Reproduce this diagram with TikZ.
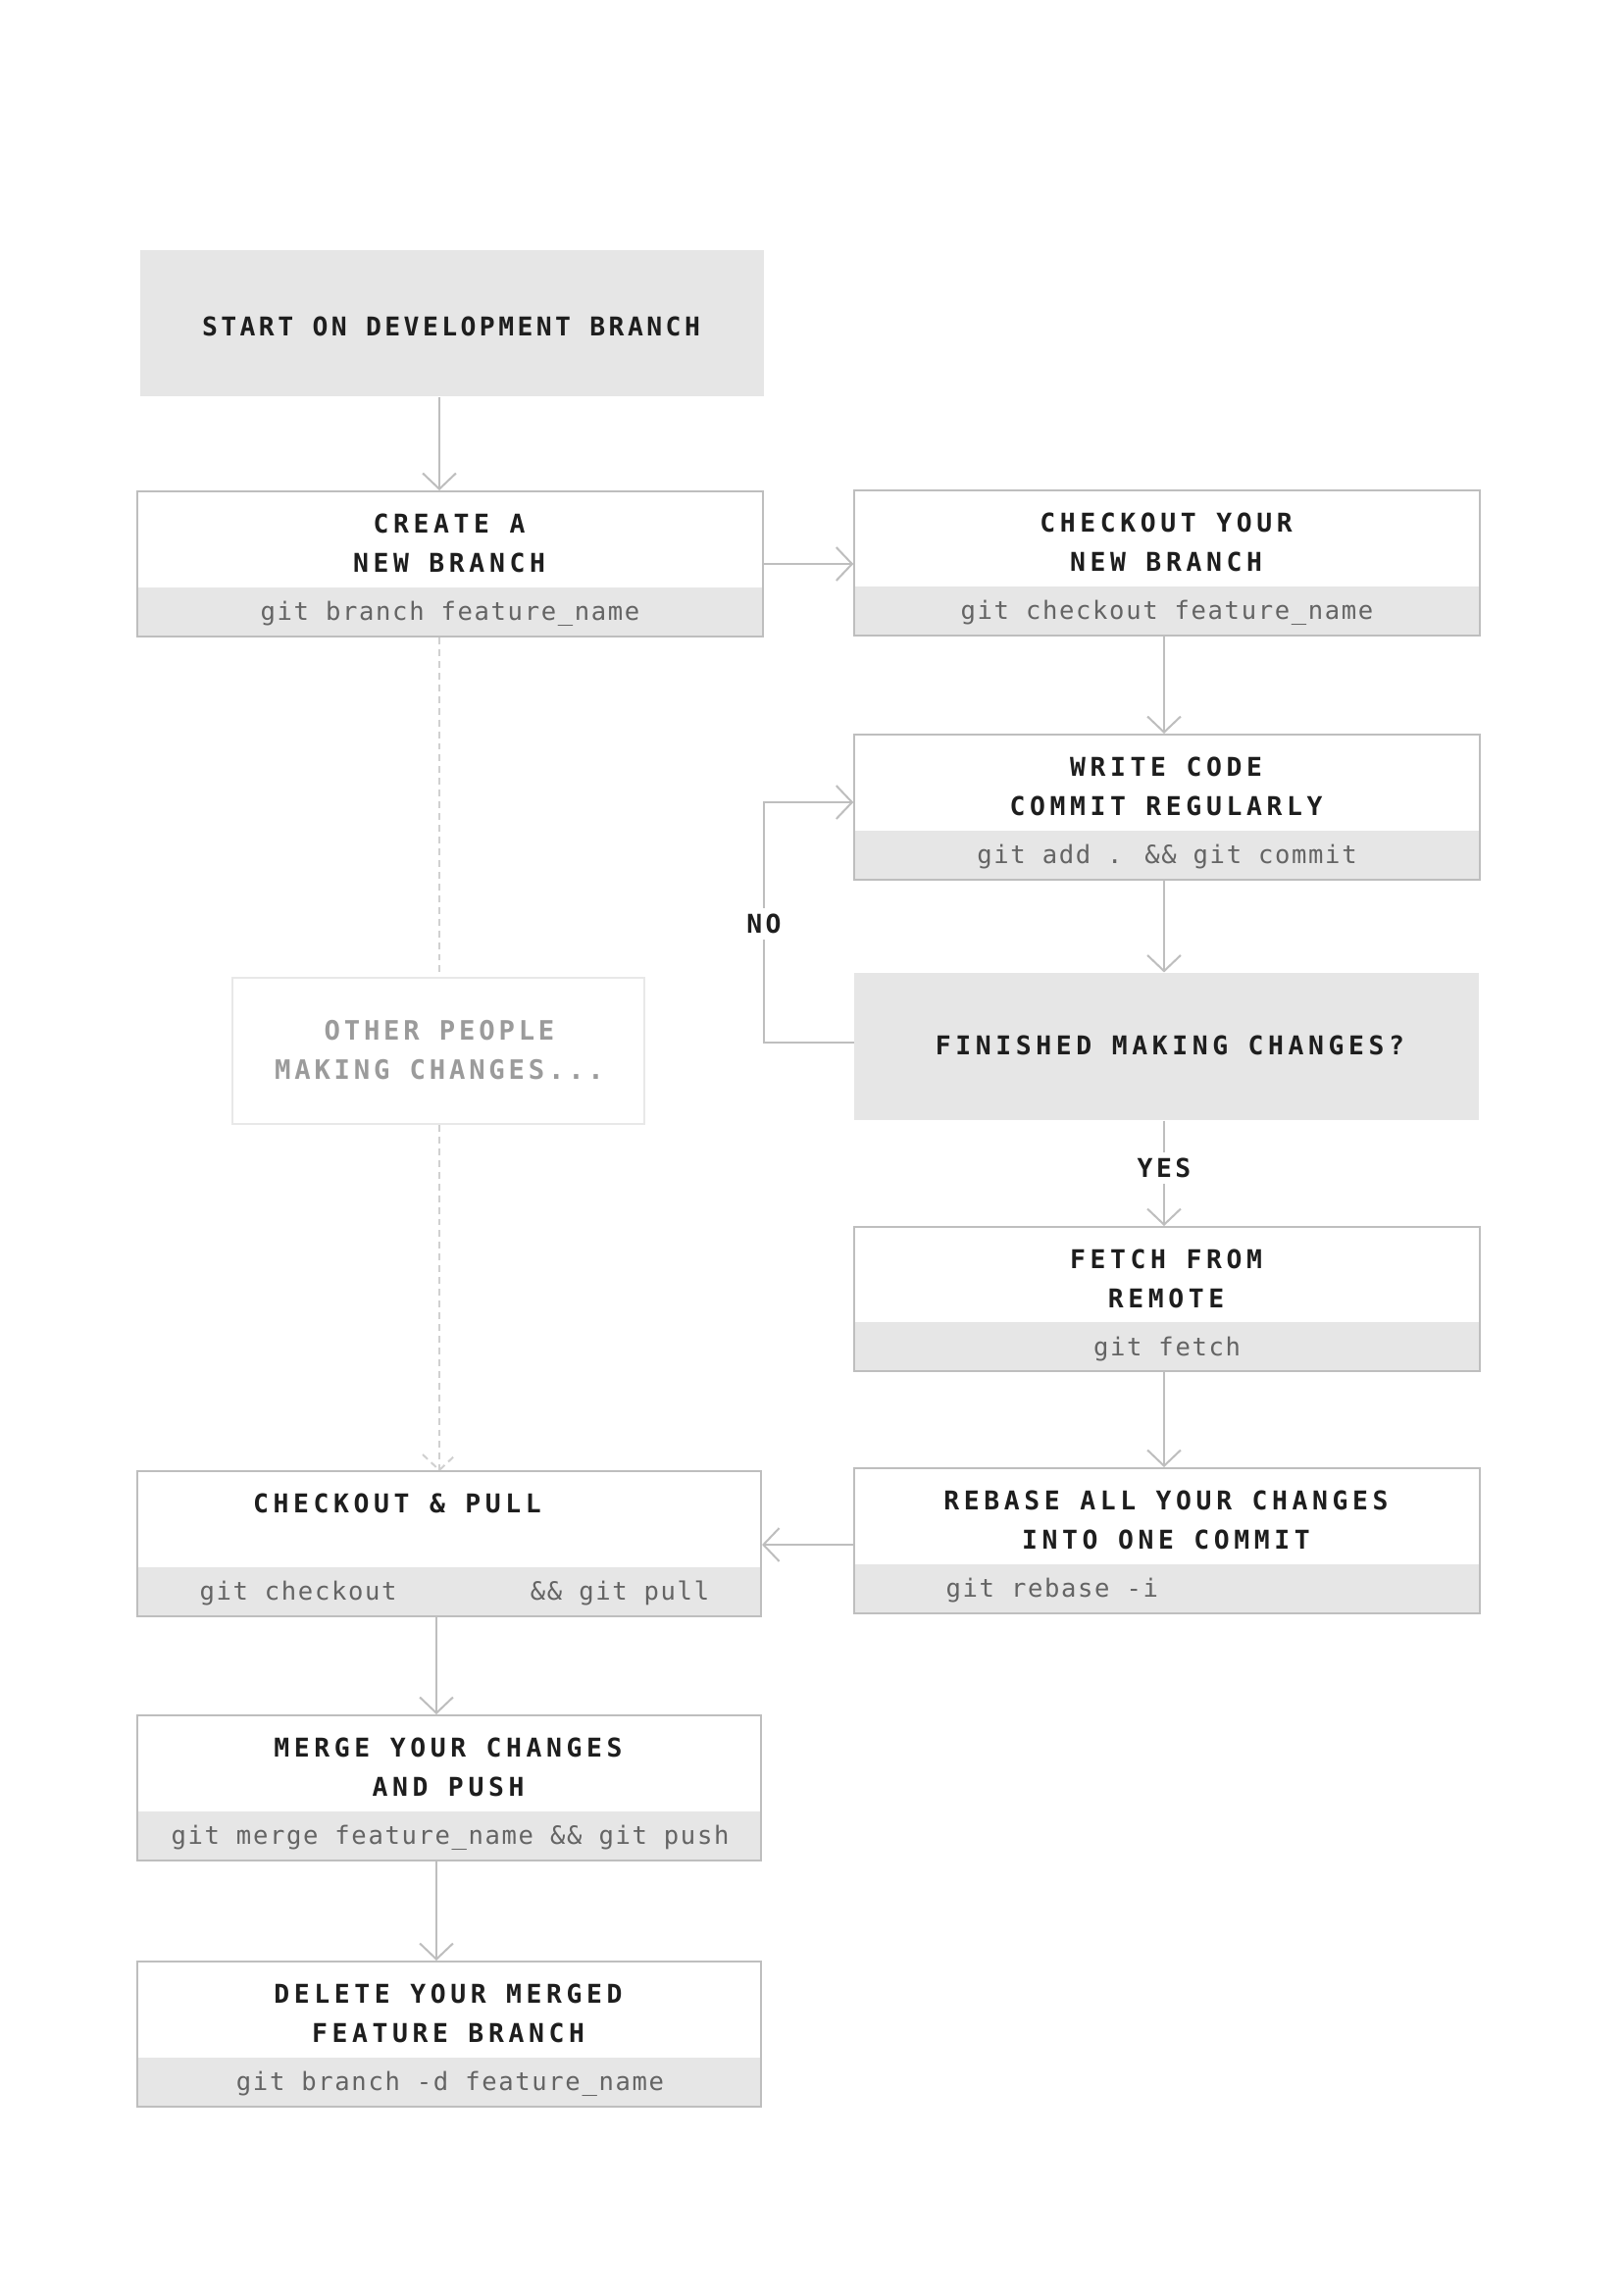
\documentclass[tikz,border=0pt]{standalone}
\usepackage{fontspec}
\usetikzlibrary{arrows.meta,calc}
\newfontfamily\sfontx{DejaVu Sans Mono}[LetterSpace=13]
\newfontfamily\tfont{DejaVu Sans Mono}[LetterSpace=17.5]
\newfontfamily\ofont{DejaVu Sans Mono}[LetterSpace=14]
\newfontfamily\cfont{DejaVu Sans Mono}[LetterSpace=6.4]
\definecolor{linec}{RGB}{190,190,190}
\definecolor{bandc}{RGB}{230,230,230}
\definecolor{titlec}{RGB}{30,30,30}
\definecolor{codec}{RGB}{100,100,100}
\definecolor{otherc}{RGB}{155,155,155}
\definecolor{otherb}{RGB}{232,232,232}
\definecolor{dashc}{RGB}{208,208,208}
\tikzset{
  stepbox/.style={draw=linec, line width=0.72pt, fill=white, inner sep=0pt,
    minimum width=229.5pt, minimum height=53.3pt,
    path picture={\fill[bandc] ([yshift=18pt]path picture bounding box.south west) rectangle (path picture bounding box.south east);}},
  graybox/.style={fill=bandc, inner sep=0pt, minimum width=229pt, minimum height=53.8pt},
  otherbox/.style={draw=otherb, line width=0.72pt, inner sep=0pt, minimum width=151.2pt, minimum height=53.6pt},
  stext/.style={font=\sfontx\bfseries\fontsize{9.5}{11}\selectfont, text=titlec, inner sep=0pt, anchor=base},
  ttext/.style={font=\tfont\bfseries\fontsize{9.5}{11}\selectfont, text=titlec, inner sep=0pt, anchor=base},
  otext/.style={font=\ofont\bfseries\fontsize{9.8}{11}\selectfont, text=otherc, inner sep=0pt, anchor=base},
  ctext/.style={font=\cfont\fontsize{9.2}{11}\selectfont, text=codec, inner sep=0pt, anchor=base},
  lbl/.style={font=\sfontx\bfseries\fontsize{9.5}{11}\selectfont, text=titlec, fill=white, inner sep=2pt},
  conn/.style={draw=linec, line width=0.72pt, -{Straight Barb[length=5.8pt,width=12.2pt,line width=0.72pt]}},
  dashconn/.style={draw=dashc, line width=0.72pt, dash pattern=on 2.5pt off 1.8pt},
}
\begin{document}
\begin{tikzpicture}[x=0.36pt,y=-0.36pt]
\useasboundingbox (0,0) rectangle (1655,2339);
\fill[white] (0,0) rectangle (1655,2339);

% boxes
\node[graybox] (start) at (461,329.5) {};
\node[stepbox, minimum width=229.7pt] (create) at (459,575) {};
\node[stepbox] (chk) at (1190,574) {};
\node[stepbox] (write) at (1190,823) {};
\node[graybox, minimum height=54pt] (fin) at (1189.5,1067) {};
\node[stepbox, minimum height=52.9pt] (fetch) at (1190,1324.5) {};
\node[stepbox] (rebase) at (1190,1571) {};
\node[stepbox, minimum width=229pt] (cp) at (458,1574) {};
\node[stepbox, minimum width=229pt] (merge) at (458,1823) {};
\node[stepbox, minimum width=229pt] (del) at (458,2074) {};
\node[otherbox] (other) at (447,1071.5) {};

% texts
\node[stext] (start-t) at (460,342) {START ON DEVELOPMENT BRANCH};

\node[ttext] (create-t1) at (458,543) {CREATE A};
\node[ttext] (create-t2) at (458,583) {NEW BRANCH};
\node[ctext] (create-c) at (459,632) {git branch feature\_name};

\node[ttext] (chk-t1) at (1189,542) {CHECKOUT YOUR};
\node[ttext] (chk-t2) at (1189,582) {NEW BRANCH};
\node[ctext] (chk-c) at (1190,631) {git checkout feature\_name};

\node[ttext] (write-t1) at (1189,791) {WRITE CODE};
\node[ttext] (write-t2) at (1189,831) {COMMIT REGULARLY};
\node[ctext] (write-c) at (1190,880) {git add . \&\& git commit};

\node[ttext] (fin-t) at (1193,1075) {FINISHED MAKING CHANGES?};

\node[ttext] (fetch-t1) at (1189,1293) {FETCH FROM};
\node[ttext] (fetch-t2) at (1189,1333) {REMOTE};
\node[ctext] (fetch-c) at (1190,1382) {git fetch};

\node[ttext] (rebase-t1) at (1189,1539) {REBASE ALL YOUR CHANGES};
\node[ttext] (rebase-t2) at (1189,1579) {INTO ONE COMMIT};
\node[ctext, anchor=base west] (rebase-c) at (964,1628) {git rebase -i};

\node[ttext] (cp-t) at (405,1542) {CHECKOUT \& PULL};
\node[ctext] (cp-c1) at (304,1631) {git checkout};
\node[ctext] (cp-c2) at (632,1631) {\&\& git pull};

\node[ttext] (merge-t1) at (457,1791) {MERGE YOUR CHANGES};
\node[ttext] (merge-t2) at (457,1831) {AND PUSH};
\node[ctext] (merge-c) at (459,1880) {git merge feature\_name \&\& git push};

\node[ttext] (del-t1) at (457,2042) {DELETE YOUR MERGED};
\node[ttext] (del-t2) at (457,2082) {FEATURE BRANCH};
\node[ctext] (del-c) at (459,2131) {git branch -d feature\_name};

\node[otext] (other-t1) at (448,1060) {OTHER PEOPLE};
\node[otext] (other-t2) at (448,1100) {MAKING CHANGES...};

% connectors
\draw[conn] (start.south -| 448,0) -- (create.north -| 448,0);
\draw[conn] (create.east |- 0,575) -- (chk.west |- 0,575);
\draw[conn] (chk.south -| 1187,0) -- (write.north -| 1187,0);
\draw[conn] (write.south -| 1187,0) -- (fin.north -| 1187,0);
\draw[conn] (fin.south -| 1187,0) -- (fetch.north -| 1187,0);
\node[lbl] (yes) at (1187,1191) {YES};
\draw[conn] (fetch.south -| 1187,0) -- (rebase.north -| 1187,0);
\draw[conn] (rebase.west |- 0,1575) -- (cp.east |- 0,1575);
\draw[conn] (cp.south -| 445,0) -- (merge.north -| 445,0);
\draw[conn] (merge.south -| 445,0) -- (del.north -| 445,0);
\draw[conn] (fin.west |- 0,1063) -- (779,1063) -- (779,818) -- (write.west |- 0,818);
\node[lbl] (no) at (779,942) {NO};

% dashed flow of other people
\draw[dashconn] (create.south -| 448,0) -- (other.north -| 448,0);
\draw[dashconn] (other.south -| 448,0) -- (cp.north -| 448,0);
\draw[dashconn] ($(cp.north -| 448,0)+(-17,-16)$) -- (cp.north -| 448,0) -- ($(cp.north -| 448,0)+(17,-16)$);
\end{tikzpicture}
\end{document}
